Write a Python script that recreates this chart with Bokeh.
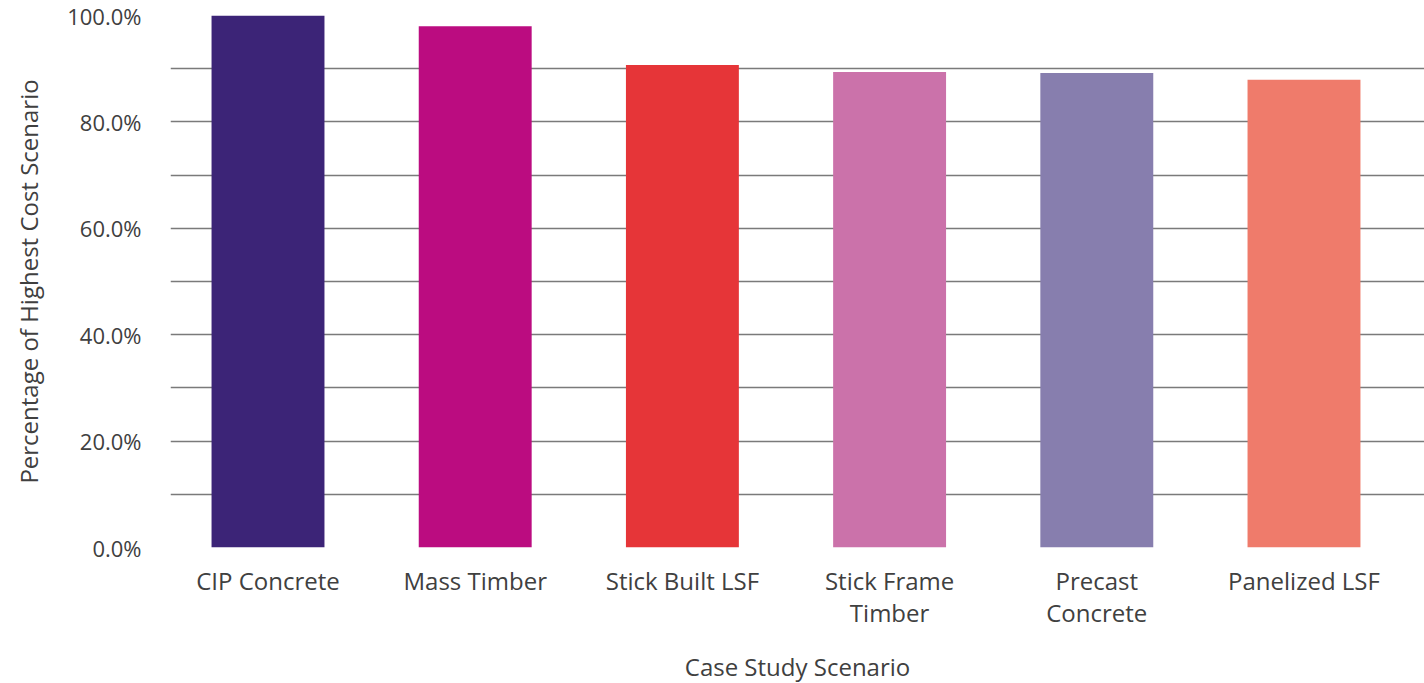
from bokeh.plotting import figure
from bokeh.models import FixedTicker, NumeralTickFormatter, Range1d, ColumnDataSource
from bokeh.embed import file_html
from bokeh.resources import INLINE

categories = ["CIP Concrete", "Mass Timber", "Stick Built LSF", "Stick Frame\nTimber", "Precast\nConcrete", "Panelized LSF"]
values = [1.000, 0.980, 0.907, 0.894, 0.892, 0.879]
colors = ["#3c2477", "#bb0c80", "#e63538", "#cb72aa", "#877eae", "#ef7b6b"]
y_ticks = [0.0, 0.2, 0.4, 0.6, 0.8, 1.0]
grid_ticks = [i / 10 for i in range(11)]

FONT = "Open Sans"
TEXT = "#404040"

xs = list(range(len(categories)))
src = ColumnDataSource(dict(x=xs, top=values, color=colors))

p = figure(width=1424, height=683, frame_width=1254, frame_height=532,
           output_backend="svg", toolbar_location=None,
           x_range=Range1d(-0.4706, 5.5816), y_range=Range1d(0, 1.0),
           min_border_left=170, min_border_right=0, min_border_top=15, min_border_bottom=136)
p.outline_line_color = None
p.background_fill_color = "white"

p.vbar(x="x", top="top", bottom=0, width=0.545, color="color", source=src, line_color=None)

p.xgrid.grid_line_color = None
p.ygrid.ticker = FixedTicker(ticks=grid_ticks)
p.ygrid.grid_line_color = "#7a7a7a"
p.ygrid.grid_line_width = 1.6

p.yaxis.ticker = FixedTicker(ticks=y_ticks)
p.yaxis.formatter = NumeralTickFormatter(format="0.0%")
p.yaxis.axis_line_color = None
p.yaxis.major_tick_line_color = None
p.yaxis.minor_tick_line_color = None
p.yaxis.major_label_standoff = 23
p.yaxis.major_label_text_font_size = "22px"
p.yaxis.axis_label = "Percentage of Highest Cost Scenario"
p.yaxis.axis_label_standoff = 19

p.xaxis.ticker = FixedTicker(ticks=xs)
p.xaxis.major_label_overrides = {i: c for i, c in enumerate(categories)}
p.xaxis.axis_line_color = None
p.xaxis.major_tick_line_color = None
p.xaxis.minor_tick_line_color = None
p.xaxis.major_label_standoff = 10
p.xaxis.major_label_text_font_size = "24px"
p.xaxis.major_label_text_line_height = 0.98
p.xaxis.axis_label = "Case Study Scenario"
p.xaxis.axis_label_standoff = 18

for ax in (p.xaxis[0], p.yaxis[0]):
    ax.major_label_text_font = FONT
    ax.major_label_text_color = TEXT
    ax.axis_label_text_font = FONT
    ax.axis_label_text_font_size = "24px"
    ax.axis_label_text_font_style = "normal"
    ax.axis_label_text_color = TEXT

open("out.html", "w").write(file_html(p, INLINE))
